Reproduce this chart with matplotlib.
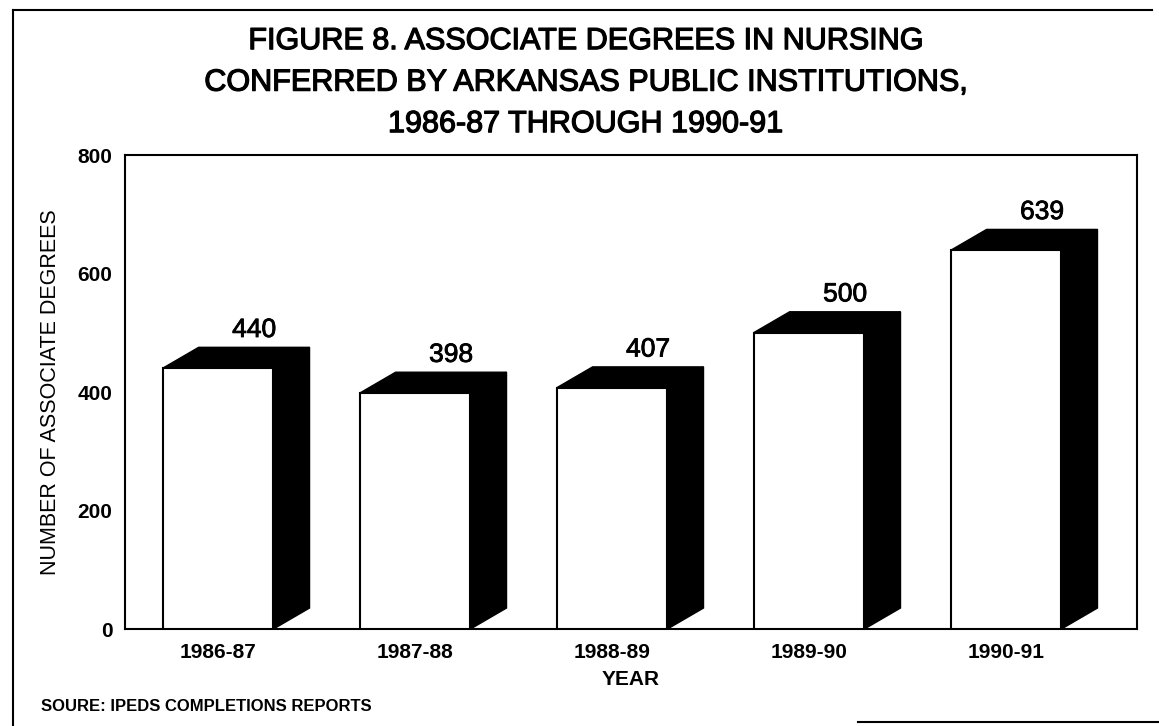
import matplotlib.pyplot as plt
import matplotlib.patheffects as pe
from matplotlib.patches import Polygon, Rectangle
from matplotlib.lines import Line2D

plt.rcParams['font.family'] = ['Liberation Sans', 'DejaVu Sans']

years = ['1986-87', '1987-88', '1988-89', '1989-90', '1990-91']
degrees = [440, 398, 407, 500, 639]

title = ('FIGURE 8. ASSOCIATE DEGREES IN NURSING\n'
         'CONFERRED BY ARKANSAS PUBLIC INSTITUTIONS,\n'
         '1986-87 THROUGH 1990-91')

# 3d look: front face width, depth offset (data units)
bar_w = 0.563
dx = 0.183
dy = 35.4

fig = plt.figure(figsize=(11.59, 7.26), dpi=100)
ax = fig.add_axes([0.1079, 0.1336, 0.8731, 0.6529])

for i, v in enumerate(degrees):
    x0 = i - bar_w / 2
    x1 = i + bar_w / 2
    # top face
    ax.add_patch(Polygon([(x0, v), (x0 + dx, v + dy), (x1 + dx, v + dy), (x1, v)],
                         closed=True, facecolor='black', edgecolor='black', lw=1))
    # side face
    ax.add_patch(Polygon([(x1, 0), (x1, v), (x1 + dx, v + dy), (x1 + dx, dy)],
                         closed=True, facecolor='black', edgecolor='black', lw=1))
    # front face
    ax.add_patch(Rectangle((x0, 0), bar_w, v, facecolor='white',
                           edgecolor='black', lw=1.5, zorder=3))
    ax.text(i + dx, v + dy + 9, str(v), ha='center', va='bottom', fontsize=19,
            path_effects=[pe.withStroke(linewidth=0.6, foreground='black')])

ax.set_xlim(-0.472, 4.665)
ax.set_ylim(0, 800)
ax.set_yticks([0, 200, 400, 600, 800])
ax.set_xticks(range(len(years)))
ax.set_xticklabels(years)
ax.tick_params(length=0, labelsize=15, pad=10)
ax.tick_params(axis='y', pad=9)
for lab in ax.get_xticklabels() + ax.get_yticklabels():
    lab.set_fontweight('bold')
for s in ax.spines.values():
    s.set_linewidth(1.5)

ax.set_xlabel('YEAR', fontsize=15, fontweight='bold', labelpad=6)
ax.set_ylabel('NUMBER OF ASSOCIATE DEGREES', fontsize=15.5, labelpad=12)

fig.text(0.505, 0.964, title, ha='center', va='top', fontsize=22,
         linespacing=1.5,
         path_effects=[pe.withStroke(linewidth=0.9, foreground='black')])
fig.text(0.035, 0.0275, 'SOURE: IPEDS COMPLETIONS REPORTS', ha='left',
         va='center', fontsize=12, fontweight='bold')

# page border lines
fig.add_artist(Line2D([0.0112, 0.994], [0.986, 0.986], color='black', lw=1.5))
fig.add_artist(Line2D([0.0112, 0.0112], [0.986, 0.0], color='black', lw=1.5))
fig.add_artist(Line2D([0.74, 1.0], [0.005, 0.005], color='black', lw=1.5))

fig.savefig('out.png', dpi=100)
